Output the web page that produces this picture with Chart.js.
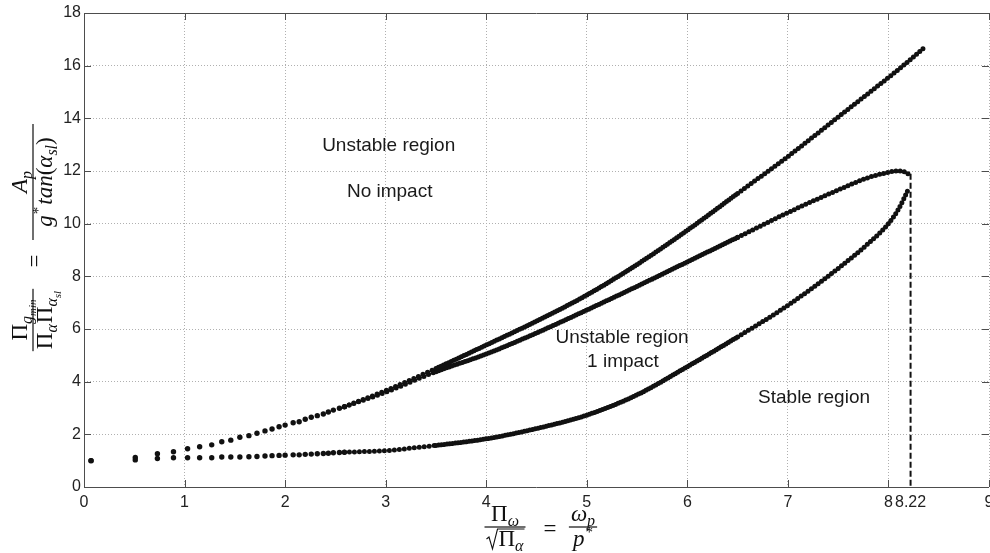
<!DOCTYPE html>
<html><head><meta charset="utf-8">
<script src="https://cdn.jsdelivr.net/npm/chart.js@4.4.1/dist/chart.umd.min.js"></script>
<style>html,body{margin:0;padding:0;background:#fff;overflow:hidden}canvas{display:block}</style>
</head><body>
<canvas id="c" width="990" height="553"></canvas>
<script>
// ---- tick labels ----
const xTickValues = [0, 1, 2, 3, 4, 5, 6, 7, 8, 8.22, 9];
const yTickValues = [0, 2, 4, 6, 8, 10, 12, 14, 16, 18];

// ---- sparse low-frequency points (both branches share the same abscissae) ----
const sparseX      = [0.07, 0.51, 0.73, 0.89, 1.03, 1.15, 1.27, 1.37, 1.46, 1.55, 1.64, 1.72, 1.80, 1.87, 1.94, 2.00, 2.08, 2.14, 2.20, 2.26, 2.32, 2.38, 2.43, 2.48, 2.54, 2.59];
const upperSparseY = [1.00, 1.12, 1.26, 1.34, 1.45, 1.53, 1.60, 1.72, 1.78, 1.89, 1.95, 2.04, 2.13, 2.20, 2.29, 2.35, 2.44, 2.48, 2.57, 2.65, 2.71, 2.77, 2.85, 2.92, 2.99, 3.05];
const lowerSparseY = [1.00, 1.03, 1.08, 1.11, 1.11, 1.11, 1.11, 1.14, 1.14, 1.14, 1.15, 1.16, 1.18, 1.19, 1.20, 1.21, 1.22, 1.22, 1.24, 1.25, 1.26, 1.27, 1.28, 1.30, 1.31, 1.32];

// ---- dense branches ----
const curveAX = [2.59, 3.0, 3.5, 4.0, 4.5, 5.0, 5.5, 6.0, 6.5, 7.0, 7.5, 8.0, 8.13, 8.36];
const curveAY = [3.05, 3.66, 4.50, 5.39, 6.30, 7.29, 8.45, 9.75, 11.15, 12.55, 14.05, 15.55, 15.95, 16.70];

const curveBX = [2.59, 3.0, 3.5, 4.0, 4.5, 5.0, 5.5, 6.0, 6.5, 7.0, 7.5, 7.8, 8.0, 8.08, 8.15, 8.2];
const curveBY = [3.05, 3.60, 4.38, 5.05, 5.85, 6.72, 7.62, 8.55, 9.48, 10.42, 11.28, 11.75, 11.95, 12.00, 11.98, 11.88];

const curveCX = [2.59, 3.0, 3.24, 3.5, 4.0, 4.5, 5.0, 5.5, 6.0, 6.5, 7.0, 7.5, 7.8, 8.0, 8.1, 8.2];
const curveCY = [1.32, 1.38, 1.47, 1.58, 1.83, 2.22, 2.73, 3.50, 4.57, 5.70, 6.90, 8.30, 9.25, 10.00, 10.55, 11.32];

// ---- vertical limit line ----
const cutoffX = 8.22;
const cutoffTopY = 11.9;

// ---- region annotations ----
const regionLabels = ['Unstable region', 'No impact', 'Unstable region', '1 impact', 'Stable region'];
const regionLabelX = [3.03, 3.04, 5.35, 5.36, 7.26];
const regionLabelY = [12.95, 11.2, 5.66, 4.75, 3.38];

const pts = (xs, ys) => xs.map((v, i) => ({x: v, y: ys[i]}));
const INK = '#111';

const SERIF = '"Liberation Serif", "DejaVu Serif", serif';
const R = '23px ' + SERIF;
const I = 'italic 23px ' + SERIF;
const RS = '15px ' + SERIF;
const IS = 'italic 16px ' + SERIF;
const ISS = 'italic 11px ' + SERIF;

function widthOf(ctx, list) { let w = 0; for (const r of list) { ctx.font = r[1]; w += ctx.measureText(r[0]).width + (r[3] || 0); } return w; }
function drawRuns(ctx, list, x, y) { let cx = x; for (const r of list) { ctx.font = r[1]; ctx.fillText(r[0], cx, y + r[2]); cx += ctx.measureText(r[0]).width + (r[3] || 0); } return cx - x; }
function frac(ctx, num, den, cx, barY, sqrtDen, minW) {
  const wn = widthOf(ctx, num);
  const wd = widthOf(ctx, den);
  const rad = sqrtDen ? 12 : 0;
  const w = Math.max(wn, wd + rad, minW || 0) + 4;
  drawRuns(ctx, num, cx - wn / 2, barY - 6);
  const dx = cx - (wd + rad) / 2;
  drawRuns(ctx, den, dx + rad, barY + 19);
  if (sqrtDen) {
    const b = barY + 19;
    ctx.save(); ctx.lineWidth = 1.1; ctx.strokeStyle = INK;
    ctx.beginPath();
    ctx.moveTo(dx, b - 7); ctx.lineTo(dx + 2.5, b - 9); ctx.lineTo(dx + 6, b + 3);
    ctx.lineTo(dx + 11, b - 17); ctx.lineTo(dx + rad + wd + 1, b - 17);
    ctx.stroke(); ctx.restore();
  }
  ctx.fillRect(cx - w / 2, barY - 0.6, w, 1.2);
}

const tickFontCss = '16px "Liberation Sans", Arial, sans-serif';

const decor = {
  id: 'decor',
  afterDraw(chart) {
    const {ctx, chartArea: a, scales: {x, y}} = chart;
    ctx.save();
    // frame + inward ticks
    ctx.strokeStyle = '#4d4d4d'; ctx.lineWidth = 1;
    ctx.beginPath();
    ctx.moveTo(a.left + 0.5, a.top); ctx.lineTo(a.left + 0.5, a.bottom + 1);
    ctx.moveTo(a.left, a.bottom + 0.5); ctx.lineTo(a.right, a.bottom + 0.5);
    ctx.moveTo(a.left, a.top + 0.5); ctx.lineTo(a.right, a.top + 0.5);
    const tl = 7;
    xTickValues.forEach(v => {
      if (v === cutoffX) return;
      const px = Math.round(x.getPixelForValue(v)) + 0.5;
      ctx.moveTo(px, a.bottom); ctx.lineTo(px, a.bottom - tl);
      ctx.moveTo(px, a.top); ctx.lineTo(px, a.top + tl);
    });
    yTickValues.forEach(v => {
      const py = Math.round(y.getPixelForValue(v)) + 0.5;
      ctx.moveTo(a.left, py); ctx.lineTo(a.left + tl, py);
      ctx.moveTo(a.right, py); ctx.lineTo(a.right - tl, py);
    });
    ctx.stroke();

    // last x tick label, allowed to run off the canvas edge
    ctx.fillStyle = '#222'; ctx.font = tickFontCss;
    ctx.textAlign = 'center'; ctx.textBaseline = 'middle';
    const lastX = xTickValues[xTickValues.length - 1];
    ctx.fillText(String(lastX), x.getPixelForValue(lastX), a.bottom + 6 + 9.6);

    // region labels
    ctx.fillStyle = '#1a1a1a';
    ctx.font = '19px "Liberation Sans", Arial, sans-serif';
    regionLabels.forEach((t, i) => ctx.fillText(t, x.getPixelForValue(regionLabelX[i]), y.getPixelForValue(regionLabelY[i])));

    // axis titles (math)
    ctx.fillStyle = INK; ctx.textAlign = 'left'; ctx.textBaseline = 'alphabetic';
    // x title
    frac(ctx, [['Π', R, 0], ['ω', IS, 5]], [['Π', R, 0], ['α', IS, 5]], 505, 527, true);
    ctx.font = R; ctx.textAlign = 'center'; ctx.fillText('=', 550, 536); ctx.textAlign = 'left';
    frac(ctx, [['ω', I, 0], ['p', IS, 5]], [['p', I, 0, 1], ['*', RS, -9]], 583, 527, false);
    // y title (rotated)
    ctx.save();
    ctx.translate(33, 487); ctx.rotate(-Math.PI / 2);
    frac(ctx, [['Π', R, 0], ['g', IS, 5], ['min', ISS, 9]],
              [['Π', R, 0], ['α', IS, 5, 1], ['Π', R, 0], ['α', IS, 5], ['sl', ISS, 9]], 167, 0, false);
    ctx.font = R; ctx.textAlign = 'center'; ctx.fillText('=', 226, 8.5); ctx.textAlign = 'left';
    frac(ctx, [['A', I, 0], ['p', IS, 5]],
              [['g', I, 0, 1], ['*', RS, -9, 2], ['tan', I, 0], ['(', R, 0], ['α', I, 0], ['sl', IS, 5], [')', R, 0]], 305, 0, false, 112);
    ctx.restore();
    ctx.restore();
  }
};

const beadDash = c => {
  const xv = c.p0.parsed.x;
  return xv < 3.5 ? [0, 5] : (xv < 6.2 ? [0, 2.8] : [0, 4.2]);
};
const dense = (xs, ys) => ({
  data: pts(xs, ys), showLine: true, pointRadius: 0, borderColor: INK, borderWidth: 5,
  borderCapStyle: 'round', cubicInterpolationMode: 'monotone', segment: {borderDash: beadDash}
});
const sparse = (xs, ys) => ({
  data: pts(xs, ys), showLine: false, pointRadius: 2.7, pointBackgroundColor: INK, pointBorderWidth: 0
});

const tickFont = {family: '"Liberation Sans", Arial, sans-serif', size: 16};

new Chart(document.getElementById('c'), {
  type: 'scatter',
  data: {
    datasets: [
      sparse(sparseX, upperSparseY),
      sparse(sparseX, lowerSparseY),
      dense(curveAX, curveAY),
      dense(curveBX, curveBY),
      dense(curveCX, curveCY),
      { data: [{x: cutoffX, y: cutoffTopY}, {x: cutoffX, y: 0}], showLine: true, pointRadius: 0,
        borderColor: INK, borderWidth: 2, borderDash: [6, 3] }
    ]
  },
  options: {
    responsive: false, animation: false, devicePixelRatio: 1, events: [],
    layout: {autoPadding: false, padding: {top: 13, right: 1, left: 0, bottom: 0}},
    plugins: {legend: {display: false}, tooltip: {enabled: false}},
    scales: {
      x: {
        type: 'linear', min: 0, max: 9,
        afterBuildTicks: s => { s.ticks = xTickValues.map(v => ({value: v})); },
        afterFit: s => { s.height = 66; s.paddingRight = 0; s.paddingLeft = 0; },
        ticks: {autoSkip: false, maxRotation: 0, padding: 6, color: '#222', font: tickFont,
                callback: v => (v === xTickValues[xTickValues.length - 1] ? '' : (v === cutoffX ? '8.22' : String(v)))},
        grid: {drawTicks: false, lineWidth: 1,
               color: c => (c.tick && c.tick.value === cutoffX ? 'rgba(0,0,0,0)' : '#b0b0b0')},
        border: {display: false, dash: [1, 2]}
      },
      y: {
        type: 'linear', min: 0, max: 18,
        afterBuildTicks: s => { s.ticks = yTickValues.map(v => ({value: v})); },
        afterFit: s => { s.width = 84; },
        ticks: {padding: 3, color: '#222', font: tickFont},
        grid: {drawTicks: false, lineWidth: 1, color: '#b0b0b0'},
        border: {display: false, dash: [1, 2]}
      }
    }
  },
  plugins: [decor]
});
</script>
</body></html>
